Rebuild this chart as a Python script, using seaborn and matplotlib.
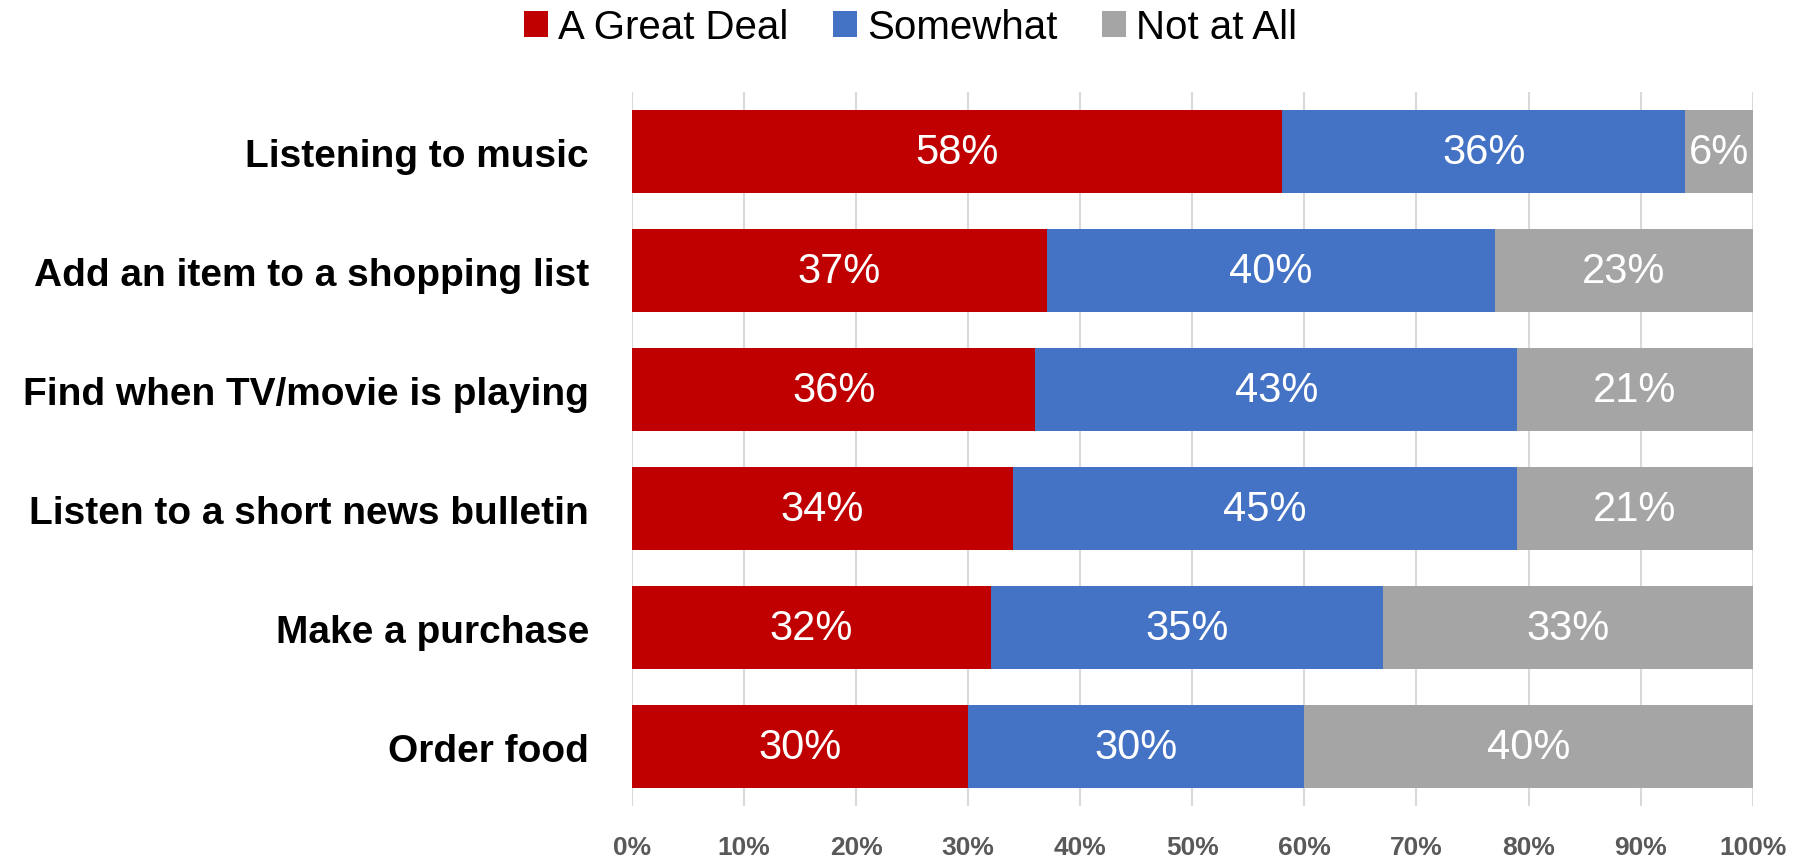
import matplotlib
matplotlib.use("Agg")
import matplotlib.pyplot as plt
from matplotlib.patches import Patch
import seaborn as sns
import pandas as pd
import numpy as np

categories = ["Listening to music", "Add an item to a shopping list",
              "Find when TV/movie is playing", "Listen to a short news bulletin",
              "Make a purchase", "Order food"]
great_deal = [58, 37, 36, 34, 32, 30]
somewhat = [36, 40, 43, 45, 35, 30]
not_at_all = [6, 23, 21, 21, 33, 40]
series_names = ["A Great Deal", "Somewhat", "Not at All"]
xticks = [0, 10, 20, 30, 40, 50, 60, 70, 80, 90, 100]

colors = ["#C00000", "#4472C4", "#A5A5A5"]

sns.set_theme(style="white")
plt.rcParams["font.family"] = ["Liberation Sans Narrow", "Liberation Sans", "DejaVu Sans"]

fig = plt.figure(figsize=(17.93, 8.62), dpi=100)
ax = fig.add_axes([0.3525, 0.0638, 0.625, 0.8283])

df = pd.DataFrame({"cat": categories, "g": great_deal, "s": somewhat, "n": not_at_all})
df["c1"] = df["g"]
df["c2"] = df["g"] + df["s"]
df["c3"] = df["g"] + df["s"] + df["n"]

for col, color in zip(["c3", "c2", "c1"], colors[::-1]):
    sns.barplot(data=df, x=col, y="cat", orient="h", color=color, width=0.69,
                saturation=1, ax=ax, edgecolor="none", zorder=2)

# bar labels
for i, row in df.iterrows():
    lefts = [0, row["c1"], row["c2"]]
    vals = [row["g"], row["s"], row["n"]]
    for l, v in zip(lefts, vals):
        ax.text(l + v / 2, i, f"{v}%", ha="center", va="center", color="white",
                fontsize=30, zorder=5)

ax.set_xlim(0, 100)
ax.set_ylim(5.5, -0.5)
ax.set_xticks(xticks)
ax.set_xticklabels([f"{t}%" for t in xticks], fontsize=19, fontweight="bold", color="#595959")
ax.tick_params(axis="x", length=0, pad=21)
ax.tick_params(axis="y", length=0, pad=31)
for lbl in ax.get_yticklabels():
    lbl.set_fontsize(28)
    lbl.set_fontweight("bold")
    lbl.set_color("black")
ax.set_xlabel("")
ax.set_ylabel("")
ax.grid(axis="x", color="#D9D9D9", linewidth=1.5, zorder=0)
ax.set_axisbelow(True)
for s in ax.spines.values():
    s.set_visible(False)

handles = [Patch(facecolor=c, edgecolor="none") for c in colors]
fig.legend(handles, series_names, loc="center", bbox_to_anchor=(0.508, 0.967),
           ncol=3, frameon=False, fontsize=29, handlelength=0.6, handleheight=0.6,
           handletextpad=0.25, columnspacing=1.1, labelcolor="black")

fig.savefig("out.png", dpi=100)
